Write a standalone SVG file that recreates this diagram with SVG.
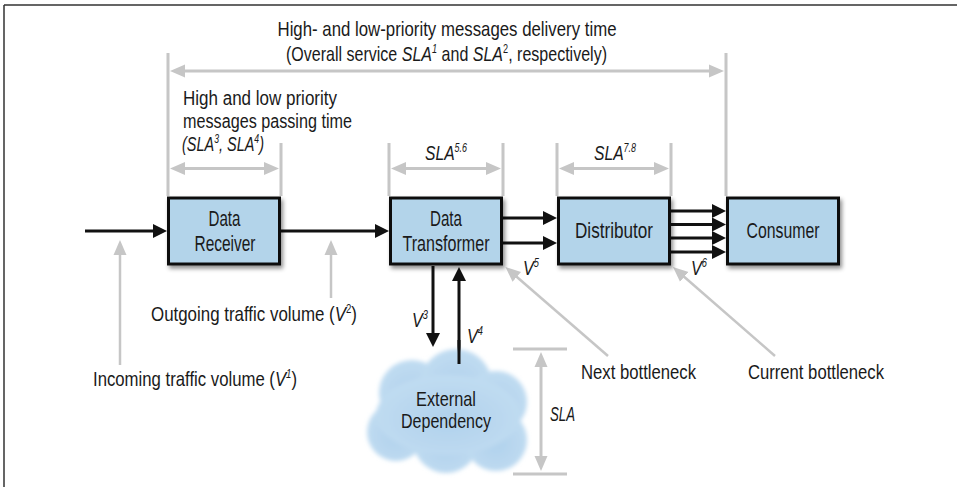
<svg xmlns="http://www.w3.org/2000/svg" width="957" height="487" viewBox="0 0 957 487">
<style>
text{font-family:"Liberation Sans Narrow","Liberation Sans",Arial,sans-serif;font-size:21px;fill:#1a1a1a}
.bx{font-size:22px}
.sm{font-size:20px}
.it{font-style:italic}
.sup{font-size:12px}
.node rect{fill:#b3d4ea;stroke:#111;stroke-width:3}
.blk{stroke:#111;stroke-width:3;fill:none}
.gry{stroke:#c6c6c6;stroke-width:3;fill:none}
.gr2{stroke:#c6c6c6;stroke-width:2.5;fill:none}
</style>
<defs>
<marker id="ab" markerUnits="userSpaceOnUse" markerWidth="14" markerHeight="14" refX="8" refY="7" orient="auto"><path d="M0,0 L14,7 L0,14 z" fill="#111"/></marker>
<marker id="ag" markerUnits="userSpaceOnUse" markerWidth="15" markerHeight="14" refX="9" refY="7" orient="auto-start-reverse"><path d="M0,0.5 L15,7 L0,13.5 z" fill="#c6c6c6"/></marker>
<filter id="sh" x="-10%" y="-10%" width="130%" height="140%"><feDropShadow dx="2" dy="3" stdDeviation="2" flood-color="#000" flood-opacity="0.45"/></filter>
<filter id="bl" x="-20%" y="-20%" width="140%" height="140%"><feGaussianBlur stdDeviation="2.2"/></filter>
<radialGradient id="cg" cx="0.5" cy="0.55" r="0.6"><stop offset="0" stop-color="#b0d1ec"/><stop offset="1" stop-color="#c2ddf2"/></radialGradient>
</defs>
<g id="frame"><path d="M4,5 H957 M4,5 V487" stroke="#333" stroke-width="1.5" fill="none"/></g>

<g id="dimensions">
<path class="gry" d="M168,53 V196 M726,53 V196 M281,143 V196 M389,143 V196 M503,143 V196 M557,143 V196 M671,143 V196"/>
<line class="gry" x1="176" y1="71" x2="718" y2="71" marker-start="url(#ag)" marker-end="url(#ag)"/>
<line class="gry" x1="176" y1="168.5" x2="273" y2="168.5" marker-start="url(#ag)" marker-end="url(#ag)"/>
<line class="gry" x1="397" y1="168.5" x2="495" y2="168.5" marker-start="url(#ag)" marker-end="url(#ag)"/>
<line class="gry" x1="565" y1="168.5" x2="663" y2="168.5" marker-start="url(#ag)" marker-end="url(#ag)"/>
<path class="gry" d="M513,349 H567 M513,474 H567"/>
<line class="gry" x1="541" y1="358" x2="541" y2="465" marker-start="url(#ag)" marker-end="url(#ag)"/>
</g>

<g id="labels">
<text x="447" y="36" text-anchor="middle" textLength="339" lengthAdjust="spacingAndGlyphs">High- and low-priority messages delivery time</text>
<text x="446.5" y="61" text-anchor="middle" textLength="321" lengthAdjust="spacingAndGlyphs">(Overall service <tspan class="it">SLA</tspan><tspan class="sup it" dy="-8">1</tspan><tspan dy="8"> and </tspan><tspan class="it">SLA</tspan><tspan class="sup" dy="-8">2</tspan><tspan dy="8">, respectively)</tspan></text>
<text x="183" y="105" class="sm" textLength="154" lengthAdjust="spacingAndGlyphs">High and low priority</text>
<text x="183" y="128" class="sm" textLength="169" lengthAdjust="spacingAndGlyphs">messages passing time</text>
<text x="182" y="151" class="sm it" textLength="82" lengthAdjust="spacingAndGlyphs">(SLA<tspan class="sup" dy="-8">3</tspan><tspan dy="8">, SLA</tspan><tspan class="sup" dy="-8">4</tspan><tspan dy="8">)</tspan></text>
<text x="425" y="160" class="it" textLength="42" lengthAdjust="spacingAndGlyphs">SLA<tspan class="sup" dy="-8">5.6</tspan></text>
<text x="594" y="160" class="it" textLength="42" lengthAdjust="spacingAndGlyphs">SLA<tspan class="sup" dy="-8">7.8</tspan></text>
<text x="151" y="321" textLength="206" lengthAdjust="spacingAndGlyphs">Outgoing traffic volume (<tspan class="it">V</tspan><tspan class="sup" dy="-8">2</tspan><tspan dy="8">)</tspan></text>
<text x="93" y="386" textLength="204" lengthAdjust="spacingAndGlyphs">Incoming traffic volume (<tspan class="it">V</tspan><tspan class="sup it" dy="-8">1</tspan><tspan dy="8">)</tspan></text>
<text x="581" y="379" textLength="115" lengthAdjust="spacingAndGlyphs">Next bottleneck</text>
<text x="748" y="379" textLength="136" lengthAdjust="spacingAndGlyphs">Current bottleneck</text>
<text x="412" y="327" class="it" textLength="16" lengthAdjust="spacingAndGlyphs">V<tspan class="sup" dy="-8">3</tspan></text>
<text x="467" y="343" class="it" textLength="16" lengthAdjust="spacingAndGlyphs">V<tspan class="sup" dy="-8">4</tspan></text>
<text x="523" y="275" class="it" textLength="16" lengthAdjust="spacingAndGlyphs">V<tspan class="sup" dy="-8">5</tspan></text>
<text x="691" y="275" class="it" textLength="16" lengthAdjust="spacingAndGlyphs">V<tspan class="sup" dy="-8">6</tspan></text>
<text x="550" y="421" class="it" textLength="25" lengthAdjust="spacingAndGlyphs">SLA</text>
</g>

<g id="connectors">
<line class="blk" x1="85" y1="231" x2="161" y2="231" marker-end="url(#ab)"/>
<line class="blk" x1="281" y1="231" x2="383" y2="231" marker-end="url(#ab)"/>
<line class="blk" x1="503" y1="218" x2="551" y2="218" marker-end="url(#ab)"/>
<line class="blk" x1="503" y1="243" x2="551" y2="243" marker-end="url(#ab)"/>
<line class="blk" x1="671" y1="211" x2="720" y2="211" marker-end="url(#ab)"/>
<line class="blk" x1="671" y1="224.5" x2="720" y2="224.5" marker-end="url(#ab)"/>
<line class="blk" x1="671" y1="238" x2="720" y2="238" marker-end="url(#ab)"/>
<line class="blk" x1="671" y1="252" x2="720" y2="252" marker-end="url(#ab)"/>
<line class="blk" x1="433" y1="266" x2="433" y2="341" marker-end="url(#ab)"/>
<line class="blk" x1="459" y1="362" x2="459" y2="273" marker-end="url(#ab)"/>
<line class="gr2" x1="120" y1="365" x2="120" y2="246" marker-end="url(#ag)"/>
<line class="gr2" x1="331" y1="298" x2="331" y2="246" marker-end="url(#ag)"/>
<line class="gr2" x1="608" y1="356" x2="510" y2="271" marker-end="url(#ag)"/>
<line class="gr2" x1="775" y1="356" x2="677.5" y2="271" marker-end="url(#ag)"/>
</g>

<g id="cloud">
<g filter="url(#bl)" fill="url(#cg)">
<circle cx="412" cy="393" r="33"/>
<circle cx="456" cy="385" r="36"/>
<circle cx="496" cy="402" r="31"/>
<circle cx="396" cy="432" r="29"/>
<circle cx="446" cy="440" r="33"/>
<circle cx="496" cy="440" r="31"/>
<ellipse cx="448" cy="415" rx="72" ry="40"/>
</g>
<line class="blk" x1="459" y1="340" x2="459" y2="364"/>
<text x="446" y="406" text-anchor="middle" textLength="60" lengthAdjust="spacingAndGlyphs">External</text>
<text x="446" y="428" text-anchor="middle" textLength="90" lengthAdjust="spacingAndGlyphs">Dependency</text>
</g>

<g id="receiver" class="node">
<rect x="168.5" y="198" width="111" height="66" filter="url(#sh)"/>
<text class="bx" x="224.5" y="226" text-anchor="middle" textLength="32" lengthAdjust="spacingAndGlyphs">Data</text>
<text class="bx" x="225" y="251" text-anchor="middle" textLength="61" lengthAdjust="spacingAndGlyphs">Receiver</text>
</g>
<g id="transformer" class="node">
<rect x="390.5" y="198" width="111" height="66" filter="url(#sh)"/>
<text class="bx" x="446" y="226" text-anchor="middle" textLength="32" lengthAdjust="spacingAndGlyphs">Data</text>
<text class="bx" x="446" y="251" text-anchor="middle" textLength="87" lengthAdjust="spacingAndGlyphs">Transformer</text>
</g>
<g id="distributor" class="node">
<rect x="558.5" y="198" width="111" height="66" filter="url(#sh)"/>
<text class="bx" x="614" y="238" text-anchor="middle" textLength="78" lengthAdjust="spacingAndGlyphs">Distributor</text>
</g>
<g id="consumer" class="node">
<rect x="727.5" y="198" width="111" height="66" filter="url(#sh)"/>
<text class="bx" x="783" y="238" text-anchor="middle" textLength="73" lengthAdjust="spacingAndGlyphs">Consumer</text>
</g>
</svg>
